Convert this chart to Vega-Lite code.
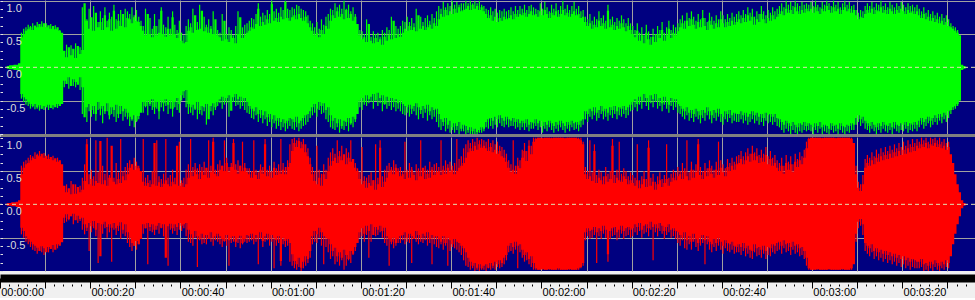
{
  "$schema": "https://vega.github.io/schema/vega-lite/v6.json",
  "background": "#f0f0f0",
  "padding": {"left": -1, "top": 0, "right": 0, "bottom": 0},
  "spacing": 3,
  "bounds": "flush",
  "config": {
    "view": {"stroke": null, "fill": "#000080"},
    "axis": {"labelFont": "Liberation Sans", "labelFontSize": 11}
  },
  "datasets": {
  "w": [
{"t":1.5,"a":2,"b":-2,"c":2,"d":-2},{"t":2,"a":3,"b":-3,"c":2,"d":-2},{"t":2.5,"a":3,"b":-3,"c":3,"d":-3},{"t":3,"a":4,"b":-4,"c":3,"d":-3},{"t":3.5,"a":4,"b":-4,"c":4,"d":-4},{"t":4,"a":6,"b":-6,"c":6,"d":-6},{"t":4.5,"a":45,"b":-40,"c":45,"d":-35},
{"t":5,"a":50,"b":-45,"c":55,"d":-40},{"t":5.5,"a":55,"b":-48,"c":60,"d":-48},{"t":6,"a":57,"b":-52,"c":62,"d":-52},{"t":6.5,"a":60,"b":-55,"c":66,"d":-56},{"t":7,"a":56,"b":-58,"c":70,"d":-60},{"t":7.5,"a":62,"b":-55,"c":68,"d":-62},{"t":8,"a":60,"b":-60,"c":74,"d":-65},{"t":8.5,"a":65,"b":-57,"c":72,"d":-70},{"t":9,"a":61,"b":-62,"c":76,"d":-63},{"t":9.5,"a":66,"b":-58,"c":70,"d":-66},
{"t":10,"a":60,"b":-60,"c":73,"d":-72},{"t":10.5,"a":63,"b":-56,"c":68,"d":-64},{"t":11,"a":58,"b":-61,"c":71,"d":-67},{"t":11.5,"a":62,"b":-57,"c":66,"d":-61},{"t":12,"a":57,"b":-60,"c":69,"d":-68},{"t":12.5,"a":60,"b":-55,"c":64,"d":-60},{"t":13,"a":55,"b":-58,"c":66,"d":-62},{"t":13.5,"a":52,"b":-55,"c":60,"d":-57},
{"t":14,"a":25,"b":-20,"c":28,"d":-20},{"t":14.5,"a":15,"b":-25,"c":18,"d":-15},{"t":15,"a":30,"b":-15,"c":24,"d":-22},{"t":15.5,"a":18,"b":-28,"c":15,"d":-18},{"t":16,"a":28,"b":-18,"c":30,"d":-14},{"t":16.5,"a":14,"b":-22,"c":16,"d":-24},{"t":17,"a":32,"b":-26,"c":26,"d":-17},{"t":17.5,"a":20,"b":-15,"c":18,"d":-22},{"t":18,"a":26,"b":-30,"c":22,"d":-20},
{"t":18.5,"a":96,"b":-75,"c":35,"d":-30},{"t":19,"a":70,"b":-60,"c":90,"d":-35},{"t":19.5,"a":58,"b":-55,"c":30,"d":-28},{"t":20,"a":75,"b":-64,"c":38,"d":-33},{"t":20.5,"a":55,"b":-58,"c":28,"d":-25},{"t":21,"a":82,"b":-70,"c":35,"d":-38},{"t":21.5,"a":60,"b":-52,"c":32,"d":-28},{"t":22,"a":68,"b":-62,"c":95,"d":-78},{"t":22.5,"a":56,"b":-58,"c":30,"d":-30},{"t":23,"a":78,"b":-66,"c":36,"d":-26},{"t":23.5,"a":60,"b":-54,"c":28,"d":-34},{"t":24,"a":72,"b":-72,"c":40,"d":-30},{"t":24.5,"a":55,"b":-60,"c":88,"d":-35},{"t":25,"a":85,"b":-64,"c":34,"d":-28},{"t":25.5,"a":58,"b":-56,"c":30,"d":-36},{"t":26,"a":70,"b":-70,"c":38,"d":-32},{"t":26.5,"a":62,"b":-58,"c":32,"d":-27},{"t":27,"a":80,"b":-66,"c":42,"d":-38},{"t":27.5,"a":60,"b":-62,"c":36,"d":-30},{"t":28,"a":74,"b":-68,"c":45,"d":-42},
{"t":28.5,"a":72,"b":-74,"c":55,"d":-50},{"t":29,"a":66,"b":-78,"c":60,"d":-58},{"t":29.5,"a":75,"b":-72,"c":52,"d":-62},{"t":30,"a":70,"b":-80,"c":58,"d":-55},{"t":30.5,"a":68,"b":-73,"c":54,"d":-60},{"t":31,"a":62,"b":-68,"c":50,"d":-52},
{"t":31.5,"a":55,"b":-52,"c":34,"d":-30},{"t":32,"a":48,"b":-58,"c":28,"d":-36},{"t":32.5,"a":80,"b":-50,"c":32,"d":-28},{"t":33,"a":50,"b":-55,"c":26,"d":-34},{"t":33.5,"a":45,"b":-48,"c":30,"d":-30},{"t":34,"a":62,"b":-60,"c":92,"d":-38},{"t":34.5,"a":48,"b":-52,"c":28,"d":-32},{"t":35,"a":52,"b":-66,"c":33,"d":-28},{"t":35.5,"a":85,"b":-50,"c":26,"d":-35},{"t":36,"a":50,"b":-54,"c":31,"d":-30},{"t":36.5,"a":46,"b":-48,"c":36,"d":-80},{"t":37,"a":58,"b":-56,"c":30,"d":-33},{"t":37.5,"a":48,"b":-50,"c":27,"d":-29},{"t":38,"a":75,"b":-62,"c":34,"d":-36},{"t":38.5,"a":50,"b":-52,"c":30,"d":-30},{"t":39,"a":44,"b":-46,"c":88,"d":-34},{"t":39.5,"a":52,"b":-55,"c":28,"d":-28},{"t":40,"a":40,"b":-42,"c":32,"d":-32},{"t":40.5,"a":36,"b":-36,"c":26,"d":-30},{"t":41,"a":38,"b":-34,"c":30,"d":-28},
{"t":41.5,"a":55,"b":-55,"c":40,"d":-38},{"t":42,"a":60,"b":-60,"c":48,"d":-45},{"t":42.5,"a":52,"b":-56,"c":42,"d":-50},{"t":43,"a":78,"b":-62,"c":52,"d":-40},{"t":43.5,"a":56,"b":-52,"c":45,"d":-48},{"t":44,"a":58,"b":-64,"c":38,"d":-52},{"t":44.5,"a":85,"b":-58,"c":50,"d":-44},{"t":45,"a":54,"b":-60,"c":44,"d":-50},{"t":45.5,"a":60,"b":-55,"c":55,"d":-46},{"t":46,"a":52,"b":-78,"c":40,"d":-52},{"t":46.5,"a":58,"b":-58,"c":48,"d":-42},{"t":47,"a":50,"b":-54,"c":94,"d":-50},{"t":47.5,"a":72,"b":-60,"c":46,"d":-48},{"t":48,"a":48,"b":-52,"c":42,"d":-44},
{"t":48.5,"a":45,"b":-48,"c":52,"d":-48},{"t":49,"a":40,"b":-44,"c":58,"d":-52},{"t":49.5,"a":70,"b":-50,"c":50,"d":-55},{"t":50,"a":42,"b":-46,"c":62,"d":-46},{"t":50.5,"a":38,"b":-42,"c":48,"d":-54},{"t":51,"a":48,"b":-65,"c":56,"d":-50},{"t":51.5,"a":44,"b":-45,"c":92,"d":-48},{"t":52,"a":36,"b":-40,"c":52,"d":-56},{"t":52.5,"a":50,"b":-48,"c":46,"d":-50},{"t":53,"a":75,"b":-44,"c":58,"d":-47},{"t":53.5,"a":44,"b":-50,"c":50,"d":-58},{"t":54,"a":48,"b":-46,"c":55,"d":-52},{"t":54.5,"a":52,"b":-52,"c":48,"d":-46},
{"t":55,"a":55,"b":-58,"c":45,"d":-48},{"t":55.5,"a":60,"b":-62,"c":40,"d":-44},{"t":56,"a":58,"b":-66,"c":50,"d":-52},{"t":56.5,"a":65,"b":-60,"c":44,"d":-46},{"t":57,"a":88,"b":-70,"c":38,"d":-50},{"t":57.5,"a":62,"b":-64,"c":52,"d":-42},{"t":58,"a":68,"b":-72,"c":46,"d":-55},{"t":58.5,"a":64,"b":-66,"c":90,"d":-48},{"t":59,"a":72,"b":-75,"c":42,"d":-44},{"t":59.5,"a":66,"b":-70,"c":48,"d":-52},{"t":60,"a":95,"b":-78,"c":40,"d":-46},{"t":60.5,"a":70,"b":-72,"c":55,"d":-50},{"t":61,"a":74,"b":-80,"c":44,"d":-54},{"t":61.5,"a":68,"b":-76,"c":50,"d":-48},{"t":62,"a":76,"b":-82,"c":46,"d":-85},{"t":62.5,"a":72,"b":-78,"c":52,"d":-50},{"t":63,"a":98,"b":-84,"c":45,"d":-55},{"t":63.5,"a":74,"b":-80,"c":56,"d":-52},{"t":64,"a":70,"b":-76,"c":62,"d":-58},
{"t":64.5,"a":75,"b":-78,"c":80,"d":-75},{"t":65,"a":78,"b":-82,"c":92,"d":-85},{"t":65.5,"a":72,"b":-74,"c":86,"d":-90},{"t":66,"a":80,"b":-84,"c":95,"d":-80},{"t":66.5,"a":74,"b":-80,"c":84,"d":-95},{"t":67,"a":70,"b":-76,"c":90,"d":-86},{"t":67.5,"a":76,"b":-72,"c":78,"d":-78},{"t":68,"a":66,"b":-70,"c":72,"d":-82},{"t":68.5,"a":60,"b":-66,"c":60,"d":-70},
{"t":69,"a":55,"b":-60,"c":45,"d":-48},{"t":69.5,"a":48,"b":-55,"c":35,"d":-40},{"t":70,"a":52,"b":-62,"c":30,"d":-45},{"t":70.5,"a":45,"b":-52,"c":40,"d":-35},{"t":71,"a":56,"b":-58,"c":28,"d":-42},{"t":71.5,"a":50,"b":-54,"c":45,"d":-48},{"t":72,"a":62,"b":-64,"c":38,"d":-50},{"t":72.5,"a":58,"b":-60,"c":50,"d":-52},
{"t":73,"a":70,"b":-72,"c":58,"d":-60},{"t":73.5,"a":78,"b":-80,"c":65,"d":-70},{"t":74,"a":74,"b":-76,"c":70,"d":-65},{"t":74.5,"a":84,"b":-84,"c":62,"d":-78},{"t":75,"a":76,"b":-78,"c":72,"d":-72},{"t":75.5,"a":80,"b":-88,"c":66,"d":-80},{"t":76,"a":72,"b":-80,"c":75,"d":-68},{"t":76.5,"a":86,"b":-82,"c":60,"d":-76},{"t":77,"a":74,"b":-76,"c":70,"d":-82},{"t":77.5,"a":80,"b":-84,"c":64,"d":-70},{"t":78,"a":70,"b":-74,"c":68,"d":-74},{"t":78.5,"a":76,"b":-78,"c":55,"d":-64},{"t":79,"a":65,"b":-70,"c":50,"d":-58},
{"t":79.5,"a":48,"b":-50,"c":38,"d":-42},{"t":80,"a":42,"b":-46,"c":30,"d":-36},{"t":80.5,"a":45,"b":-52,"c":35,"d":-44},{"t":81,"a":38,"b":-42,"c":25,"d":-32},{"t":81.5,"a":65,"b":-48,"c":32,"d":-40},{"t":82,"a":40,"b":-44,"c":28,"d":-30},{"t":82.5,"a":36,"b":-40,"c":36,"d":-46},{"t":83,"a":44,"b":-50,"c":22,"d":-34},{"t":83.5,"a":38,"b":-38,"c":30,"d":-38},{"t":84,"a":42,"b":-46,"c":85,"d":-32},{"t":84.5,"a":34,"b":-42,"c":26,"d":-40},{"t":85,"a":46,"b":-55,"c":34,"d":-35},{"t":85.5,"a":40,"b":-44,"c":40,"d":-48},{"t":86,"a":48,"b":-50,"c":48,"d":-52},{"t":86.5,"a":42,"b":-46,"c":52,"d":-56},{"t":87,"a":70,"b":-52,"c":45,"d":-50},{"t":87.5,"a":44,"b":-48,"c":55,"d":-58},{"t":88,"a":50,"b":-54,"c":50,"d":-52},{"t":88.5,"a":46,"b":-50,"c":42,"d":-48},
{"t":89,"a":52,"b":-55,"c":45,"d":-46},{"t":89.5,"a":58,"b":-58,"c":38,"d":-42},{"t":90,"a":55,"b":-60,"c":48,"d":-50},{"t":90.5,"a":62,"b":-56,"c":40,"d":-44},{"t":91,"a":56,"b":-62,"c":52,"d":-48},{"t":91.5,"a":60,"b":-58,"c":44,"d":-52},{"t":92,"a":54,"b":-54,"c":36,"d":-40},{"t":92.5,"a":78,"b":-60,"c":50,"d":-46},{"t":93,"a":58,"b":-64,"c":42,"d":-50},{"t":93.5,"a":62,"b":-58,"c":55,"d":-44},{"t":94,"a":56,"b":-62,"c":38,"d":-48},{"t":94.5,"a":60,"b":-56,"c":46,"d":-42},{"t":95,"a":64,"b":-66,"c":40,"d":-52},{"t":95.5,"a":58,"b":-60,"c":52,"d":-46},{"t":96,"a":66,"b":-64,"c":44,"d":-50},{"t":96.5,"a":62,"b":-62,"c":48,"d":-48},
{"t":97,"a":72,"b":-70,"c":50,"d":-52},{"t":97.5,"a":80,"b":-78,"c":44,"d":-56},{"t":98,"a":76,"b":-82,"c":52,"d":-48},{"t":98.5,"a":86,"b":-76,"c":46,"d":-58},{"t":99,"a":78,"b":-86,"c":55,"d":-50},{"t":99.5,"a":84,"b":-80,"c":48,"d":-54},{"t":100,"a":80,"b":-90,"c":52,"d":-60},{"t":100.5,"a":88,"b":-84,"c":45,"d":-52},{"t":101,"a":82,"b":-88,"c":50,"d":-56},{"t":101.5,"a":90,"b":-82,"c":55,"d":-58},{"t":102,"a":84,"b":-92,"c":58,"d":-62},{"t":102.5,"a":86,"b":-86,"c":62,"d":-66},
{"t":103,"a":88,"b":-88,"c":70,"d":-72},{"t":103.5,"a":92,"b":-94,"c":78,"d":-80},{"t":104,"a":86,"b":-90,"c":84,"d":-86},{"t":104.5,"a":94,"b":-96,"c":80,"d":-92},{"t":105,"a":88,"b":-92,"c":88,"d":-88},{"t":105.5,"a":92,"b":-97,"c":82,"d":-95},{"t":106,"a":86,"b":-94,"c":90,"d":-90},{"t":106.5,"a":90,"b":-90,"c":85,"d":-96},{"t":107,"a":84,"b":-92,"c":88,"d":-92},
{"t":107.5,"a":80,"b":-82,"c":84,"d":-90},{"t":108,"a":74,"b":-78,"c":80,"d":-95},{"t":108.5,"a":78,"b":-76,"c":86,"d":-88},{"t":109,"a":70,"b":-80,"c":78,"d":-92},{"t":109.5,"a":76,"b":-74,"c":82,"d":-86},{"t":110,"a":68,"b":-78,"c":76,"d":-90},{"t":110.5,"a":74,"b":-72,"c":80,"d":-84},{"t":111,"a":70,"b":-76,"c":72,"d":-88},{"t":111.5,"a":76,"b":-80,"c":70,"d":-80},{"t":112,"a":72,"b":-74,"c":64,"d":-76},
{"t":112.5,"a":74,"b":-78,"c":55,"d":-62},{"t":113,"a":78,"b":-80,"c":48,"d":-58},{"t":113.5,"a":72,"b":-76,"c":52,"d":-64},{"t":114,"a":80,"b":-82,"c":46,"d":-56},{"t":114.5,"a":76,"b":-78,"c":58,"d":-62},{"t":115,"a":80,"b":-84,"c":54,"d":-60},
{"t":115.5,"a":78,"b":-80,"c":70,"d":-68},{"t":116,"a":82,"b":-84,"c":80,"d":-76},{"t":116.5,"a":76,"b":-78,"c":65,"d":-72},{"t":117,"a":80,"b":-86,"c":88,"d":-82},{"t":117.5,"a":84,"b":-82,"c":75,"d":-78},{"t":118,"a":78,"b":-84,"c":94,"d":-88},
{"t":118.5,"a":80,"b":-78,"c":98,"d":-96},{"t":119,"a":76,"b":-84,"c":100,"d":-98},{"t":119.5,"a":84,"b":-80,"c":100,"d":-98},{"t":120,"a":78,"b":-88,"c":99,"d":-97},{"t":120.5,"a":86,"b":-82,"c":100,"d":-98},{"t":121,"a":80,"b":-86,"c":100,"d":-98},{"t":121.5,"a":74,"b":-80,"c":100,"d":-97},{"t":122,"a":82,"b":-84,"c":99,"d":-98},{"t":122.5,"a":78,"b":-88,"c":100,"d":-98},{"t":123,"a":84,"b":-82,"c":100,"d":-98},{"t":123.5,"a":76,"b":-86,"c":100,"d":-96},{"t":124,"a":80,"b":-80,"c":100,"d":-98},{"t":124.5,"a":86,"b":-84,"c":100,"d":-98},{"t":125,"a":78,"b":-88,"c":99,"d":-98},{"t":125.5,"a":82,"b":-82,"c":100,"d":-98},{"t":126,"a":76,"b":-86,"c":100,"d":-97},{"t":126.5,"a":80,"b":-80,"c":100,"d":-98},{"t":127,"a":84,"b":-84,"c":100,"d":-98},{"t":127.5,"a":78,"b":-82,"c":100,"d":-98},{"t":128,"a":80,"b":-86,"c":98,"d":-96},{"t":128.5,"a":74,"b":-80,"c":96,"d":-94},{"t":129,"a":76,"b":-78,"c":90,"d":-88},
{"t":129.5,"a":68,"b":-66,"c":45,"d":-42},{"t":130,"a":62,"b":-70,"c":38,"d":-36},{"t":130.5,"a":66,"b":-62,"c":42,"d":-40},{"t":131,"a":58,"b":-66,"c":35,"d":-38},{"t":131.5,"a":64,"b":-60,"c":80,"d":-34},{"t":132,"a":60,"b":-68,"c":32,"d":-42},{"t":132.5,"a":70,"b":-64,"c":40,"d":-36},{"t":133,"a":62,"b":-58,"c":36,"d":-40},{"t":133.5,"a":66,"b":-66,"c":30,"d":-32},{"t":134,"a":58,"b":-62,"c":42,"d":-38},{"t":134.5,"a":85,"b":-68,"c":34,"d":-75},{"t":135,"a":60,"b":-60,"c":38,"d":-40},{"t":135.5,"a":64,"b":-64,"c":88,"d":-36},{"t":136,"a":56,"b":-58,"c":32,"d":-34},{"t":136.5,"a":62,"b":-66,"c":40,"d":-42},{"t":137,"a":58,"b":-60,"c":36,"d":-38},{"t":137.5,"a":66,"b":-62,"c":34,"d":-32},{"t":138,"a":60,"b":-58,"c":42,"d":-40},{"t":138.5,"a":54,"b":-64,"c":38,"d":-36},{"t":139,"a":62,"b":-60,"c":30,"d":-34},{"t":139.5,"a":56,"b":-56,"c":36,"d":-38},
{"t":140,"a":50,"b":-52,"c":32,"d":-36},{"t":140.5,"a":45,"b":-48,"c":28,"d":-30},{"t":141,"a":55,"b":-55,"c":36,"d":-34},{"t":141.5,"a":40,"b":-44,"c":24,"d":-28},{"t":142,"a":48,"b":-50,"c":30,"d":-38},{"t":142.5,"a":36,"b":-40,"c":38,"d":-32},{"t":143,"a":52,"b":-46,"c":26,"d":-30},{"t":143.5,"a":42,"b":-52,"c":85,"d":-36},{"t":144,"a":34,"b":-42,"c":28,"d":-26},{"t":144.5,"a":46,"b":-48,"c":34,"d":-34},{"t":145,"a":38,"b":-40,"c":22,"d":-30},{"t":145.5,"a":50,"b":-50,"c":30,"d":-36},{"t":146,"a":44,"b":-46,"c":36,"d":-28},{"t":146.5,"a":56,"b":-54,"c":26,"d":-32},{"t":147,"a":40,"b":-44,"c":32,"d":-40},{"t":147.5,"a":48,"b":-50,"c":38,"d":-34},{"t":148,"a":58,"b":-56,"c":28,"d":-30},{"t":148.5,"a":44,"b":-46,"c":34,"d":-38},{"t":149,"a":52,"b":-52,"c":40,"d":-36},{"t":149.5,"a":48,"b":-48,"c":36,"d":-40},{"t":150,"a":54,"b":-55,"c":42,"d":-42},
{"t":150.5,"a":60,"b":-58,"c":45,"d":-46},{"t":151,"a":66,"b":-62,"c":38,"d":-50},{"t":151.5,"a":58,"b":-66,"c":50,"d":-42},{"t":152,"a":70,"b":-60,"c":42,"d":-54},{"t":152.5,"a":62,"b":-68,"c":36,"d":-48},{"t":153,"a":72,"b":-64,"c":52,"d":-56},{"t":153.5,"a":64,"b":-70,"c":40,"d":-44},{"t":154,"a":58,"b":-62,"c":48,"d":-52},{"t":154.5,"a":68,"b":-66,"c":90,"d":-58},{"t":155,"a":60,"b":-72,"c":44,"d":-50},{"t":155.5,"a":74,"b":-64,"c":38,"d":-46},{"t":156,"a":62,"b":-68,"c":50,"d":-54},{"t":156.5,"a":56,"b":-60,"c":42,"d":-48},{"t":157,"a":70,"b":-66,"c":54,"d":-56},{"t":157.5,"a":64,"b":-72,"c":46,"d":-60},{"t":158,"a":58,"b":-64,"c":40,"d":-52},{"t":158.5,"a":66,"b":-68,"c":52,"d":-58},{"t":159,"a":60,"b":-62,"c":44,"d":-50},{"t":159.5,"a":72,"b":-70,"c":55,"d":-56},{"t":160,"a":66,"b":-74,"c":48,"d":-62},{"t":160.5,"a":60,"b":-66,"c":42,"d":-54},{"t":161,"a":68,"b":-70,"c":56,"d":-58},{"t":161.5,"a":62,"b":-64,"c":50,"d":-60},{"t":162,"a":70,"b":-72,"c":58,"d":-56},{"t":162.5,"a":64,"b":-68,"c":52,"d":-62},{"t":163,"a":68,"b":-70,"c":60,"d":-64},
{"t":163.5,"a":72,"b":-70,"c":62,"d":-60},{"t":164,"a":66,"b":-66,"c":68,"d":-64},{"t":164.5,"a":74,"b":-72,"c":60,"d":-58},{"t":165,"a":68,"b":-68,"c":66,"d":-66},{"t":165.5,"a":78,"b":-74,"c":72,"d":-62},{"t":166,"a":70,"b":-70,"c":64,"d":-68},{"t":166.5,"a":76,"b":-66,"c":76,"d":-70},{"t":167,"a":64,"b":-72,"c":66,"d":-60},{"t":167.5,"a":72,"b":-68,"c":72,"d":-66},{"t":168,"a":68,"b":-74,"c":62,"d":-64},{"t":168.5,"a":80,"b":-70,"c":70,"d":-68},{"t":169,"a":72,"b":-76,"c":64,"d":-62},{"t":169.5,"a":66,"b":-68,"c":74,"d":-70},{"t":170,"a":74,"b":-72,"c":60,"d":-64},{"t":170.5,"a":70,"b":-70,"c":68,"d":-66},{"t":171,"a":78,"b":-74,"c":58,"d":-60},{"t":171.5,"a":72,"b":-70,"c":62,"d":-62},{"t":172,"a":76,"b":-76,"c":55,"d":-58},
{"t":172.5,"a":80,"b":-78,"c":50,"d":-56},{"t":173,"a":84,"b":-82,"c":58,"d":-62},{"t":173.5,"a":78,"b":-86,"c":46,"d":-54},{"t":174,"a":88,"b":-80,"c":62,"d":-60},{"t":174.5,"a":82,"b":-84,"c":52,"d":-58},{"t":175,"a":86,"b":-88,"c":60,"d":-64},{"t":175.5,"a":80,"b":-82,"c":48,"d":-56},{"t":176,"a":90,"b":-86,"c":64,"d":-62},{"t":176.5,"a":84,"b":-90,"c":56,"d":-60},{"t":177,"a":80,"b":-84,"c":66,"d":-66},{"t":177.5,"a":86,"b":-86,"c":60,"d":-64},{"t":178,"a":82,"b":-82,"c":70,"d":-70},{"t":178.5,"a":88,"b":-88,"c":84,"d":-80},
{"t":179,"a":84,"b":-84,"c":98,"d":-96},{"t":179.5,"a":88,"b":-86,"c":100,"d":-98},{"t":180,"a":82,"b":-90,"c":100,"d":-98},{"t":180.5,"a":90,"b":-84,"c":100,"d":-98},{"t":181,"a":84,"b":-88,"c":100,"d":-97},{"t":181.5,"a":80,"b":-82,"c":100,"d":-98},{"t":182,"a":88,"b":-90,"c":99,"d":-98},{"t":182.5,"a":84,"b":-86,"c":100,"d":-98},{"t":183,"a":92,"b":-88,"c":100,"d":-98},{"t":183.5,"a":86,"b":-92,"c":100,"d":-97},{"t":184,"a":82,"b":-84,"c":100,"d":-98},{"t":184.5,"a":90,"b":-88,"c":100,"d":-98},{"t":185,"a":84,"b":-86,"c":99,"d":-98},{"t":185.5,"a":88,"b":-92,"c":100,"d":-98},{"t":186,"a":80,"b":-84,"c":100,"d":-98},{"t":186.5,"a":86,"b":-88,"c":100,"d":-97},{"t":187,"a":90,"b":-90,"c":100,"d":-98},{"t":187.5,"a":84,"b":-86,"c":100,"d":-98},{"t":188,"a":88,"b":-88,"c":100,"d":-98},{"t":188.5,"a":82,"b":-84,"c":98,"d":-96},{"t":189,"a":86,"b":-86,"c":92,"d":-90},
{"t":189.5,"a":78,"b":-76,"c":45,"d":-44},{"t":190,"a":72,"b":-72,"c":25,"d":-26},{"t":190.5,"a":76,"b":-78,"c":20,"d":-22},{"t":191,"a":74,"b":-74,"c":30,"d":-30},
{"t":191.5,"a":80,"b":-80,"c":55,"d":-58},{"t":192,"a":86,"b":-84,"c":62,"d":-62},{"t":192.5,"a":82,"b":-88,"c":58,"d":-66},{"t":193,"a":88,"b":-82,"c":66,"d":-60},{"t":193.5,"a":80,"b":-86,"c":60,"d":-70},{"t":194,"a":86,"b":-90,"c":70,"d":-66},{"t":194.5,"a":84,"b":-84,"c":64,"d":-72},{"t":195,"a":90,"b":-88,"c":72,"d":-68},{"t":195.5,"a":82,"b":-82,"c":66,"d":-74},{"t":196,"a":86,"b":-86,"c":74,"d":-70},{"t":196.5,"a":80,"b":-88,"c":68,"d":-76},{"t":197,"a":88,"b":-84,"c":76,"d":-72},{"t":197.5,"a":84,"b":-90,"c":70,"d":-78},{"t":198,"a":80,"b":-82,"c":78,"d":-74},{"t":198.5,"a":86,"b":-86,"c":72,"d":-80},{"t":199,"a":82,"b":-88,"c":80,"d":-76},{"t":199.5,"a":88,"b":-84,"c":74,"d":-82},{"t":200,"a":84,"b":-86,"c":82,"d":-78},{"t":200.5,"a":80,"b":-82,"c":76,"d":-84},{"t":201,"a":86,"b":-88,"c":84,"d":-80},{"t":201.5,"a":82,"b":-84,"c":78,"d":-86},{"t":202,"a":84,"b":-86,"c":86,"d":-82},{"t":202.5,"a":80,"b":-82,"c":80,"d":-84},{"t":203,"a":84,"b":-86,"c":88,"d":-86},
{"t":203.5,"a":78,"b":-80,"c":84,"d":-86},{"t":204,"a":74,"b":-76,"c":90,"d":-82},{"t":204.5,"a":80,"b":-82,"c":86,"d":-90},{"t":205,"a":72,"b":-78,"c":92,"d":-88},{"t":205.5,"a":76,"b":-74,"c":84,"d":-92},{"t":206,"a":70,"b":-80,"c":90,"d":-86},{"t":206.5,"a":74,"b":-76,"c":88,"d":-90},{"t":207,"a":68,"b":-72,"c":92,"d":-84},{"t":207.5,"a":72,"b":-76,"c":86,"d":-88},{"t":208,"a":66,"b":-70,"c":90,"d":-92},{"t":208.5,"a":70,"b":-74,"c":84,"d":-86},{"t":209,"a":64,"b":-68,"c":88,"d":-90},{"t":209.5,"a":68,"b":-72,"c":82,"d":-84},{"t":210,"a":62,"b":-66,"c":86,"d":-88},{"t":210.5,"a":60,"b":-64,"c":75,"d":-78},
{"t":211,"a":58,"b":-60,"c":62,"d":-60},{"t":211.5,"a":55,"b":-58,"c":45,"d":-44},{"t":212,"a":52,"b":-55,"c":30,"d":-30},{"t":212.5,"a":48,"b":-50,"c":18,"d":-18},{"t":213,"a":4,"b":-4,"c":6,"d":-6},{"t":213.5,"a":2,"b":-2,"c":2,"d":-2},{"t":214,"a":0,"b":0,"c":0,"d":0}
  ],
  "spk": [
{"t":4.75,"a":52,"b":-47,"c":58,"d":-45},{"t":5.25,"a":58,"b":-52,"c":64,"d":-50},{"t":5.75,"a":60,"b":-56,"c":66,"d":-56},{"t":6.25,"a":64,"b":-58,"c":70,"d":-60},{"t":6.75,"a":62,"b":-62,"c":74,"d":-64},{"t":7.25,"a":66,"b":-60,"c":72,"d":-68},{"t":7.75,"a":63,"b":-63,"c":78,"d":-70},{"t":8.25,"a":68,"b":-62,"c":76,"d":-74},{"t":8.75,"a":64,"b":-65,"c":80,"d":-68},{"t":9.25,"a":69,"b":-62,"c":74,"d":-72},{"t":9.75,"a":63,"b":-64,"c":77,"d":-76},{"t":10.25,"a":66,"b":-60,"c":72,"d":-70},{"t":10.75,"a":62,"b":-64,"c":75,"d":-72},{"t":11.25,"a":65,"b":-61,"c":70,"d":-66},{"t":11.75,"a":61,"b":-63,"c":73,"d":-72},{"t":12.25,"a":63,"b":-58,"c":68,"d":-65},{"t":12.75,"a":59,"b":-61,"c":70,"d":-66},{"t":13.25,"a":56,"b":-58,"c":64,"d":-60},
{"t":13.75,"a":30,"b":-25,"c":34,"d":-24},{"t":14.25,"a":20,"b":-30,"c":22,"d":-28},{"t":14.75,"a":34,"b":-20,"c":30,"d":-26},{"t":15.25,"a":24,"b":-32,"c":20,"d":-24},{"t":15.75,"a":33,"b":-22,"c":35,"d":-18},{"t":16.25,"a":18,"b":-28,"c":22,"d":-30},{"t":16.75,"a":36,"b":-30,"c":30,"d":-22},{"t":17.25,"a":24,"b":-20,"c":24,"d":-28},{"t":17.75,"a":30,"b":-34,"c":28,"d":-25},
{"t":18.25,"a":90,"b":-70,"c":40,"d":-38},{"t":18.75,"a":80,"b":-68,"c":60,"d":-45},{"t":19.25,"a":72,"b":-82,"c":98,"d":-40},{"t":19.75,"a":88,"b":-66,"c":45,"d":-70},{"t":20.25,"a":70,"b":-74,"c":52,"d":-42},{"t":20.75,"a":92,"b":-70,"c":42,"d":-36},{"t":21.25,"a":76,"b":-80,"c":96,"d":-48},{"t":21.75,"a":68,"b":-64,"c":48,"d":-88},{"t":22.25,"a":84,"b":-72,"c":40,"d":-40},{"t":22.75,"a":74,"b":-84,"c":58,"d":-44},{"t":23.25,"a":90,"b":-70,"c":46,"d":-36},{"t":23.75,"a":70,"b":-66,"c":100,"d":-50},{"t":24.25,"a":82,"b":-78,"c":44,"d":-42},{"t":24.75,"a":76,"b":-70,"c":52,"d":-86},{"t":25.25,"a":94,"b":-74,"c":40,"d":-38},{"t":25.75,"a":72,"b":-82,"c":62,"d":-46},{"t":26.25,"a":80,"b":-76,"c":48,"d":-40},{"t":26.75,"a":86,"b":-70,"c":98,"d":-52},{"t":27.25,"a":74,"b":-80,"c":50,"d":-44},{"t":27.75,"a":88,"b":-74,"c":56,"d":-48},
{"t":28.25,"a":84,"b":-78,"c":62,"d":-58},{"t":28.75,"a":80,"b":-88,"c":66,"d":-64},{"t":29.25,"a":90,"b":-80,"c":60,"d":-70},{"t":29.75,"a":78,"b":-90,"c":70,"d":-62},{"t":30.25,"a":86,"b":-82,"c":64,"d":-68},{"t":30.75,"a":76,"b":-78,"c":58,"d":-60},
{"t":31.25,"a":70,"b":-62,"c":48,"d":-40},{"t":31.75,"a":62,"b":-68,"c":98,"d":-44},{"t":32.25,"a":88,"b":-60,"c":40,"d":-36},{"t":32.75,"a":60,"b":-72,"c":44,"d":-90},{"t":33.25,"a":74,"b":-58,"c":36,"d":-40},{"t":33.75,"a":58,"b":-64,"c":50,"d":-42},{"t":34.25,"a":80,"b":-70,"c":40,"d":-46},{"t":34.75,"a":62,"b":-62,"c":96,"d":-38},{"t":35.25,"a":72,"b":-78,"c":42,"d":-44},{"t":35.75,"a":90,"b":-60,"c":38,"d":-36},{"t":36.25,"a":64,"b":-66,"c":46,"d":-48},{"t":36.75,"a":60,"b":-58,"c":98,"d":-42},{"t":37.25,"a":76,"b":-70,"c":40,"d":-92},{"t":37.75,"a":58,"b":-62,"c":44,"d":-38},{"t":38.25,"a":84,"b":-74,"c":52,"d":-44},{"t":38.75,"a":64,"b":-60,"c":40,"d":-40},{"t":39.25,"a":56,"b":-64,"c":50,"d":-46},{"t":39.75,"a":70,"b":-68,"c":94,"d":-38},{"t":40.25,"a":52,"b":-50,"c":36,"d":-40},{"t":40.75,"a":48,"b":-46,"c":40,"d":-36},
{"t":41.25,"a":62,"b":-60,"c":52,"d":-48},{"t":41.75,"a":72,"b":-70,"c":60,"d":-56},{"t":42.25,"a":66,"b":-68,"c":98,"d":-58},{"t":42.75,"a":88,"b":-72,"c":56,"d":-62},{"t":43.25,"a":70,"b":-64,"c":62,"d":-50},{"t":43.75,"a":68,"b":-78,"c":54,"d":-94},{"t":44.25,"a":94,"b":-70,"c":60,"d":-54},{"t":44.75,"a":66,"b":-72,"c":56,"d":-60},{"t":45.25,"a":76,"b":-66,"c":64,"d":-58},{"t":45.75,"a":64,"b":-86,"c":50,"d":-60},{"t":46.25,"a":72,"b":-70,"c":96,"d":-52},{"t":46.75,"a":62,"b":-66,"c":58,"d":-56},{"t":47.25,"a":84,"b":-72,"c":100,"d":-62},{"t":47.75,"a":60,"b":-64,"c":52,"d":-54},
{"t":48.25,"a":56,"b":-58,"c":60,"d":-56},{"t":48.75,"a":52,"b":-54,"c":66,"d":-60},{"t":49.25,"a":80,"b":-62,"c":58,"d":-64},{"t":49.75,"a":54,"b":-56,"c":96,"d":-56},{"t":50.25,"a":50,"b":-54,"c":70,"d":-62},{"t":50.75,"a":60,"b":-74,"c":56,"d":-92},{"t":51.25,"a":56,"b":-55,"c":62,"d":-58},{"t":51.75,"a":48,"b":-52,"c":98,"d":-56},{"t":52.25,"a":62,"b":-58,"c":60,"d":-64},{"t":52.75,"a":84,"b":-56,"c":66,"d":-58},{"t":53.25,"a":56,"b":-62,"c":58,"d":-66},{"t":53.75,"a":60,"b":-58,"c":94,"d":-60},{"t":54.25,"a":64,"b":-64,"c":62,"d":-56},{"t":54.75,"a":66,"b":-68,"c":54,"d":-58},
{"t":55.25,"a":70,"b":-70,"c":54,"d":-56},{"t":55.75,"a":74,"b":-76,"c":50,"d":-54},{"t":56.25,"a":72,"b":-78,"c":96,"d":-60},{"t":56.75,"a":80,"b":-72,"c":52,"d":-56},{"t":57.25,"a":96,"b":-82,"c":48,"d":-90},{"t":57.75,"a":76,"b":-76,"c":60,"d":-52},{"t":58.25,"a":82,"b":-84,"c":56,"d":-64},{"t":58.75,"a":78,"b":-78,"c":98,"d":-56},{"t":59.25,"a":86,"b":-88,"c":52,"d":-54},{"t":59.75,"a":80,"b":-82,"c":58,"d":-62},{"t":60.25,"a":100,"b":-90,"c":50,"d":-56},{"t":60.75,"a":84,"b":-84,"c":64,"d":-96},{"t":61.25,"a":88,"b":-92,"c":54,"d":-62},{"t":61.75,"a":82,"b":-88,"c":60,"d":-58},{"t":62.25,"a":90,"b":-94,"c":98,"d":-92},{"t":62.75,"a":86,"b":-90,"c":62,"d":-60},{"t":63.25,"a":100,"b":-96,"c":56,"d":-64},{"t":63.75,"a":88,"b":-92,"c":66,"d":-62},
{"t":64.25,"a":86,"b":-88,"c":90,"d":-86},{"t":64.75,"a":90,"b":-92,"c":98,"d":-92},{"t":65.25,"a":88,"b":-94,"c":100,"d":-96},{"t":65.75,"a":94,"b":-90,"c":96,"d":-98},{"t":66.25,"a":92,"b":-96,"c":100,"d":-94},{"t":66.75,"a":88,"b":-92,"c":94,"d":-100},{"t":67.25,"a":86,"b":-88,"c":98,"d":-96},{"t":67.75,"a":84,"b":-86,"c":90,"d":-92},{"t":68.25,"a":78,"b":-82,"c":84,"d":-88},
{"t":68.75,"a":70,"b":-76,"c":70,"d":-80},{"t":69.25,"a":66,"b":-72,"c":56,"d":-60},{"t":69.75,"a":60,"b":-68,"c":50,"d":-56},{"t":70.25,"a":68,"b":-74,"c":88,"d":-58},{"t":70.75,"a":58,"b":-64,"c":52,"d":-50},{"t":71.25,"a":72,"b":-70,"c":46,"d":-62},{"t":71.75,"a":64,"b":-68,"c":60,"d":-90},{"t":72.25,"a":76,"b":-78,"c":52,"d":-64},
{"t":72.75,"a":80,"b":-82,"c":70,"d":-72},{"t":73.25,"a":88,"b":-90,"c":78,"d":-82},{"t":73.75,"a":86,"b":-92,"c":84,"d":-78},{"t":74.25,"a":96,"b":-94,"c":76,"d":-90},{"t":74.75,"a":90,"b":-90,"c":96,"d":-86},{"t":75.25,"a":94,"b":-98,"c":80,"d":-92},{"t":75.75,"a":88,"b":-92,"c":88,"d":-84},{"t":76.25,"a":100,"b":-94,"c":74,"d":-98},{"t":76.75,"a":88,"b":-88,"c":84,"d":-92},{"t":77.25,"a":94,"b":-96,"c":78,"d":-84},{"t":77.75,"a":84,"b":-86,"c":96,"d":-88},{"t":78.25,"a":90,"b":-90,"c":68,"d":-76},{"t":78.75,"a":80,"b":-82,"c":62,"d":-70},
{"t":79.25,"a":60,"b":-62,"c":54,"d":-56},{"t":79.75,"a":56,"b":-60,"c":48,"d":-50},{"t":80.25,"a":54,"b":-64,"c":86,"d":-48},{"t":80.75,"a":50,"b":-56,"c":42,"d":-56},{"t":81.25,"a":72,"b":-58,"c":40,"d":-46},{"t":81.75,"a":48,"b":-54,"c":44,"d":-80},{"t":82.25,"a":46,"b":-52,"c":48,"d":-56},{"t":82.75,"a":54,"b":-62,"c":36,"d":-44},{"t":83.25,"a":50,"b":-48,"c":90,"d":-48},{"t":83.75,"a":52,"b":-58,"c":40,"d":-46},{"t":84.25,"a":46,"b":-54,"c":96,"d":-42},{"t":84.75,"a":56,"b":-66,"c":42,"d":-50},{"t":85.25,"a":52,"b":-56,"c":52,"d":-58},{"t":85.75,"a":60,"b":-62,"c":58,"d":-62},{"t":86.25,"a":56,"b":-58,"c":62,"d":-92},{"t":86.75,"a":76,"b":-64,"c":56,"d":-60},{"t":87.25,"a":58,"b":-60,"c":66,"d":-66},{"t":87.75,"a":62,"b":-66,"c":60,"d":-62},{"t":88.25,"a":58,"b":-62,"c":54,"d":-58},
{"t":88.75,"a":62,"b":-66,"c":56,"d":-58},{"t":89.25,"a":70,"b":-70,"c":50,"d":-54},{"t":89.75,"a":68,"b":-72,"c":94,"d":-60},{"t":90.25,"a":76,"b":-68,"c":52,"d":-56},{"t":90.75,"a":68,"b":-74,"c":62,"d":-58},{"t":91.25,"a":74,"b":-70,"c":56,"d":-88},{"t":91.75,"a":66,"b":-66,"c":48,"d":-52},{"t":92.25,"a":88,"b":-72,"c":60,"d":-56},{"t":92.75,"a":70,"b":-78,"c":54,"d":-60},{"t":93.25,"a":76,"b":-70,"c":96,"d":-56},{"t":93.75,"a":68,"b":-76,"c":50,"d":-58},{"t":94.25,"a":74,"b":-68,"c":58,"d":-54},{"t":94.75,"a":78,"b":-80,"c":52,"d":-62},{"t":95.25,"a":70,"b":-72,"c":64,"d":-58},{"t":95.75,"a":80,"b":-78,"c":56,"d":-90},{"t":96.25,"a":74,"b":-74,"c":60,"d":-60},
{"t":96.75,"a":84,"b":-82,"c":62,"d":-64},{"t":97.25,"a":92,"b":-90,"c":56,"d":-66},{"t":97.75,"a":88,"b":-94,"c":96,"d":-60},{"t":98.25,"a":98,"b":-88,"c":58,"d":-68},{"t":98.75,"a":90,"b":-96,"c":66,"d":-62},{"t":99.25,"a":96,"b":-92,"c":60,"d":-92},{"t":99.75,"a":92,"b":-98,"c":64,"d":-70},{"t":100.25,"a":100,"b":-94,"c":58,"d":-64},{"t":100.75,"a":94,"b":-98,"c":62,"d":-66},{"t":101.25,"a":98,"b":-94,"c":98,"d":-68},{"t":101.75,"a":94,"b":-100,"c":68,"d":-72},{"t":102.25,"a":96,"b":-96,"c":72,"d":-76},
{"t":102.75,"a":96,"b":-96,"c":84,"d":-84},{"t":103.25,"a":100,"b":-100,"c":90,"d":-92},{"t":103.75,"a":96,"b":-98,"c":96,"d":-94},{"t":104.25,"a":100,"b":-100,"c":92,"d":-98},{"t":104.75,"a":96,"b":-100,"c":98,"d":-96},{"t":105.25,"a":100,"b":-100,"c":94,"d":-100},{"t":105.75,"a":96,"b":-100,"c":100,"d":-98},{"t":106.25,"a":100,"b":-98,"c":96,"d":-100},{"t":106.75,"a":94,"b":-98,"c":98,"d":-98},{"t":107.25,"a":92,"b":-96,"c":96,"d":-98},{"t":107.75,"a":88,"b":-90,"c":94,"d":-100},{"t":108.25,"a":86,"b":-92,"c":98,"d":-96},{"t":108.75,"a":90,"b":-88,"c":92,"d":-98},{"t":109.25,"a":84,"b":-92,"c":96,"d":-96},{"t":109.75,"a":88,"b":-86,"c":90,"d":-98},{"t":110.25,"a":82,"b":-90,"c":94,"d":-94},{"t":110.75,"a":86,"b":-84,"c":88,"d":-96},{"t":111.25,"a":84,"b":-88,"c":86,"d":-94},{"t":111.75,"a":88,"b":-90,"c":82,"d":-90},
{"t":112.25,"a":84,"b":-86,"c":76,"d":-84},{"t":112.75,"a":86,"b":-90,"c":66,"d":-72},{"t":113.25,"a":90,"b":-88,"c":60,"d":-70},{"t":113.75,"a":84,"b":-88,"c":96,"d":-74},{"t":114.25,"a":92,"b":-92,"c":58,"d":-68},{"t":114.75,"a":86,"b":-90,"c":70,"d":-96},{"t":115.25,"a":92,"b":-94,"c":66,"d":-72},{"t":115.75,"a":88,"b":-90,"c":82,"d":-80},{"t":116.25,"a":94,"b":-94,"c":92,"d":-86},{"t":116.75,"a":86,"b":-90,"c":80,"d":-84},{"t":117.25,"a":92,"b":-96,"c":96,"d":-90},{"t":117.75,"a":94,"b":-92,"c":88,"d":-94},
{"t":118.25,"a":90,"b":-92,"c":100,"d":-98},{"t":118.75,"a":88,"b":-88,"c":100,"d":-98},{"t":119.25,"a":86,"b":-94,"c":100,"d":-98},{"t":119.75,"a":96,"b":-90,"c":100,"d":-98},{"t":120.25,"a":88,"b":-98,"c":100,"d":-98},{"t":120.75,"a":98,"b":-92,"c":100,"d":-98},{"t":121.25,"a":90,"b":-96,"c":100,"d":-98},{"t":121.75,"a":84,"b":-90,"c":100,"d":-98},{"t":122.25,"a":94,"b":-94,"c":100,"d":-98},{"t":122.75,"a":88,"b":-98,"c":100,"d":-98},{"t":123.25,"a":96,"b":-92,"c":100,"d":-98},{"t":123.75,"a":86,"b":-96,"c":100,"d":-98},{"t":124.25,"a":92,"b":-90,"c":100,"d":-98},{"t":124.75,"a":100,"b":-94,"c":100,"d":-98},{"t":125.25,"a":88,"b":-98,"c":100,"d":-98},{"t":125.75,"a":94,"b":-92,"c":100,"d":-98},{"t":126.25,"a":86,"b":-96,"c":100,"d":-98},{"t":126.75,"a":92,"b":-90,"c":100,"d":-98},{"t":127.25,"a":98,"b":-94,"c":100,"d":-98},{"t":127.75,"a":88,"b":-92,"c":100,"d":-98},{"t":128.25,"a":92,"b":-96,"c":100,"d":-98},{"t":128.75,"a":84,"b":-90,"c":100,"d":-96},
{"t":129.25,"a":86,"b":-86,"c":94,"d":-92},{"t":129.75,"a":76,"b":-78,"c":56,"d":-54},{"t":130.25,"a":72,"b":-82,"c":50,"d":-48},{"t":130.75,"a":80,"b":-74,"c":96,"d":-52},{"t":131.25,"a":70,"b":-78,"c":48,"d":-50},{"t":131.75,"a":76,"b":-72,"c":90,"d":-46},{"t":132.25,"a":72,"b":-80,"c":44,"d":-88},{"t":132.75,"a":84,"b":-76,"c":52,"d":-48},{"t":133.25,"a":74,"b":-70,"c":48,"d":-52},{"t":133.75,"a":78,"b":-78,"c":42,"d":-44},{"t":134.25,"a":70,"b":-74,"c":56,"d":-50},{"t":134.75,"a":94,"b":-80,"c":46,"d":-86},{"t":135.25,"a":72,"b":-72,"c":50,"d":-52},{"t":135.75,"a":76,"b":-76,"c":98,"d":-48},{"t":136.25,"a":68,"b":-70,"c":44,"d":-46},{"t":136.75,"a":74,"b":-78,"c":52,"d":-54},{"t":137.25,"a":70,"b":-72,"c":94,"d":-50},{"t":137.75,"a":78,"b":-74,"c":46,"d":-44},{"t":138.25,"a":72,"b":-70,"c":54,"d":-52},{"t":138.75,"a":66,"b":-76,"c":50,"d":-48},{"t":139.25,"a":74,"b":-72,"c":42,"d":-46},
{"t":139.75,"a":66,"b":-66,"c":48,"d":-50},{"t":140.25,"a":62,"b":-64,"c":44,"d":-48},{"t":140.75,"a":56,"b":-60,"c":40,"d":-42},{"t":141.25,"a":66,"b":-66,"c":90,"d":-46},{"t":141.75,"a":52,"b":-56,"c":36,"d":-40},{"t":142.25,"a":60,"b":-62,"c":42,"d":-50},{"t":142.75,"a":48,"b":-52,"c":50,"d":-44},{"t":143.25,"a":64,"b":-58,"c":38,"d":-42},{"t":143.75,"a":54,"b":-64,"c":96,"d":-48},{"t":144.25,"a":46,"b":-54,"c":40,"d":-38},{"t":144.75,"a":58,"b":-60,"c":46,"d":-84},{"t":145.25,"a":50,"b":-52,"c":34,"d":-42},{"t":145.75,"a":62,"b":-62,"c":42,"d":-48},{"t":146.25,"a":56,"b":-58,"c":48,"d":-40},{"t":146.75,"a":68,"b":-66,"c":38,"d":-44},{"t":147.25,"a":52,"b":-56,"c":44,"d":-52},{"t":147.75,"a":60,"b":-62,"c":90,"d":-46},{"t":148.25,"a":70,"b":-68,"c":40,"d":-42},{"t":148.75,"a":56,"b":-58,"c":46,"d":-50},{"t":149.25,"a":64,"b":-64,"c":52,"d":-48},{"t":149.75,"a":60,"b":-60,"c":48,"d":-52},
{"t":150.25,"a":66,"b":-68,"c":56,"d":-58},{"t":150.75,"a":72,"b":-70,"c":50,"d":-62},{"t":151.25,"a":78,"b":-74,"c":62,"d":-54},{"t":151.75,"a":70,"b":-78,"c":54,"d":-66},{"t":152.25,"a":82,"b":-72,"c":96,"d":-68},{"t":152.75,"a":74,"b":-80,"c":48,"d":-60},{"t":153.25,"a":84,"b":-76,"c":64,"d":-68},{"t":153.75,"a":76,"b":-82,"c":52,"d":-56},{"t":154.25,"a":70,"b":-74,"c":60,"d":-64},{"t":154.75,"a":80,"b":-78,"c":98,"d":-70},{"t":155.25,"a":72,"b":-84,"c":56,"d":-62},{"t":155.75,"a":86,"b":-76,"c":50,"d":-58},{"t":156.25,"a":74,"b":-80,"c":62,"d":-90},{"t":156.75,"a":68,"b":-72,"c":54,"d":-60},{"t":157.25,"a":82,"b":-78,"c":66,"d":-68},{"t":157.75,"a":76,"b":-84,"c":58,"d":-72},{"t":158.25,"a":70,"b":-76,"c":52,"d":-64},{"t":158.75,"a":78,"b":-80,"c":64,"d":-70},{"t":159.25,"a":72,"b":-74,"c":94,"d":-62},{"t":159.75,"a":84,"b":-82,"c":66,"d":-68},{"t":160.25,"a":78,"b":-86,"c":60,"d":-74},{"t":160.75,"a":72,"b":-78,"c":54,"d":-66},{"t":161.25,"a":80,"b":-82,"c":68,"d":-70},{"t":161.75,"a":74,"b":-76,"c":62,"d":-72},{"t":162.25,"a":82,"b":-84,"c":70,"d":-68},{"t":162.75,"a":76,"b":-80,"c":64,"d":-74},
{"t":163.25,"a":80,"b":-82,"c":72,"d":-72},{"t":163.75,"a":84,"b":-82,"c":74,"d":-72},{"t":164.25,"a":78,"b":-78,"c":80,"d":-76},{"t":164.75,"a":86,"b":-84,"c":72,"d":-70},{"t":165.25,"a":80,"b":-80,"c":78,"d":-78},{"t":165.75,"a":90,"b":-86,"c":84,"d":-74},{"t":166.25,"a":82,"b":-82,"c":76,"d":-80},{"t":166.75,"a":88,"b":-78,"c":88,"d":-82},{"t":167.25,"a":76,"b":-84,"c":78,"d":-72},{"t":167.75,"a":84,"b":-80,"c":84,"d":-78},{"t":168.25,"a":80,"b":-86,"c":74,"d":-76},{"t":168.75,"a":92,"b":-82,"c":82,"d":-80},{"t":169.25,"a":84,"b":-88,"c":76,"d":-74},{"t":169.75,"a":78,"b":-80,"c":86,"d":-82},{"t":170.25,"a":86,"b":-84,"c":72,"d":-76},{"t":170.75,"a":82,"b":-82,"c":80,"d":-78},{"t":171.25,"a":90,"b":-86,"c":70,"d":-72},{"t":171.75,"a":84,"b":-82,"c":74,"d":-74},
{"t":172.25,"a":88,"b":-88,"c":66,"d":-70},{"t":172.75,"a":92,"b":-90,"c":62,"d":-68},{"t":173.25,"a":96,"b":-94,"c":70,"d":-74},{"t":173.75,"a":90,"b":-98,"c":58,"d":-66},{"t":174.25,"a":100,"b":-92,"c":74,"d":-72},{"t":174.75,"a":94,"b":-96,"c":64,"d":-70},{"t":175.25,"a":98,"b":-100,"c":72,"d":-76},{"t":175.75,"a":92,"b":-94,"c":60,"d":-68},{"t":176.25,"a":100,"b":-98,"c":76,"d":-74},{"t":176.75,"a":96,"b":-100,"c":68,"d":-72},{"t":177.25,"a":92,"b":-96,"c":78,"d":-78},{"t":177.75,"a":98,"b":-98,"c":72,"d":-76},{"t":178.25,"a":94,"b":-94,"c":82,"d":-82},
{"t":178.75,"a":96,"b":-96,"c":94,"d":-92},{"t":179.25,"a":94,"b":-94,"c":100,"d":-98},{"t":179.75,"a":98,"b":-96,"c":100,"d":-98},{"t":180.25,"a":92,"b":-100,"c":100,"d":-98},{"t":180.75,"a":100,"b":-94,"c":100,"d":-98},{"t":181.25,"a":94,"b":-98,"c":100,"d":-98},{"t":181.75,"a":90,"b":-92,"c":100,"d":-98},{"t":182.25,"a":98,"b":-100,"c":100,"d":-98},{"t":182.75,"a":94,"b":-96,"c":100,"d":-98},{"t":183.25,"a":100,"b":-98,"c":100,"d":-98},{"t":183.75,"a":96,"b":-100,"c":100,"d":-98},{"t":184.25,"a":92,"b":-94,"c":100,"d":-98},{"t":184.75,"a":100,"b":-98,"c":100,"d":-98},{"t":185.25,"a":94,"b":-96,"c":100,"d":-98},{"t":185.75,"a":98,"b":-100,"c":100,"d":-98},{"t":186.25,"a":90,"b":-94,"c":100,"d":-98},{"t":186.75,"a":96,"b":-98,"c":100,"d":-98},{"t":187.25,"a":100,"b":-100,"c":100,"d":-98},{"t":187.75,"a":94,"b":-96,"c":100,"d":-98},{"t":188.25,"a":98,"b":-98,"c":100,"d":-98},{"t":188.75,"a":92,"b":-94,"c":100,"d":-98},
{"t":189.25,"a":94,"b":-94,"c":70,"d":-68},{"t":189.75,"a":86,"b":-86,"c":58,"d":-56},{"t":190.25,"a":82,"b":-82,"c":34,"d":-36},{"t":190.75,"a":86,"b":-88,"c":30,"d":-32},{"t":191.25,"a":84,"b":-84,"c":44,"d":-46},
{"t":191.75,"a":92,"b":-92,"c":68,"d":-70},{"t":192.25,"a":96,"b":-94,"c":74,"d":-74},{"t":192.75,"a":92,"b":-98,"c":70,"d":-78},{"t":193.25,"a":98,"b":-92,"c":78,"d":-72},{"t":193.75,"a":90,"b":-96,"c":72,"d":-82},{"t":194.25,"a":96,"b":-100,"c":82,"d":-78},{"t":194.75,"a":94,"b":-94,"c":76,"d":-84},{"t":195.25,"a":100,"b":-98,"c":84,"d":-80},{"t":195.75,"a":92,"b":-92,"c":78,"d":-86},{"t":196.25,"a":96,"b":-96,"c":86,"d":-82},{"t":196.75,"a":90,"b":-98,"c":80,"d":-88},{"t":197.25,"a":98,"b":-94,"c":88,"d":-84},{"t":197.75,"a":94,"b":-100,"c":82,"d":-90},{"t":198.25,"a":90,"b":-92,"c":90,"d":-86},{"t":198.75,"a":96,"b":-96,"c":84,"d":-92},{"t":199.25,"a":92,"b":-98,"c":92,"d":-88},{"t":199.75,"a":98,"b":-94,"c":86,"d":-94},{"t":200.25,"a":94,"b":-96,"c":94,"d":-90},{"t":200.75,"a":90,"b":-92,"c":88,"d":-96},{"t":201.25,"a":96,"b":-98,"c":96,"d":-92},{"t":201.75,"a":92,"b":-94,"c":90,"d":-98},{"t":202.25,"a":94,"b":-96,"c":98,"d":-94},{"t":202.75,"a":90,"b":-92,"c":92,"d":-96},
{"t":203.25,"a":94,"b":-96,"c":98,"d":-96},{"t":203.75,"a":88,"b":-90,"c":94,"d":-96},{"t":204.25,"a":84,"b":-86,"c":100,"d":-94},{"t":204.75,"a":90,"b":-92,"c":96,"d":-100},{"t":205.25,"a":82,"b":-88,"c":100,"d":-98},{"t":205.75,"a":86,"b":-84,"c":94,"d":-100},{"t":206.25,"a":80,"b":-90,"c":100,"d":-96},{"t":206.75,"a":84,"b":-86,"c":98,"d":-100},{"t":207.25,"a":78,"b":-82,"c":100,"d":-94},{"t":207.75,"a":82,"b":-86,"c":96,"d":-98},{"t":208.25,"a":76,"b":-80,"c":100,"d":-100},{"t":208.75,"a":80,"b":-84,"c":94,"d":-96},{"t":209.25,"a":74,"b":-78,"c":98,"d":-98},{"t":209.75,"a":78,"b":-82,"c":92,"d":-94},{"t":210.25,"a":72,"b":-76,"c":94,"d":-96},
{"t":210.75,"a":66,"b":-70,"c":72,"d":-74},{"t":211.25,"a":62,"b":-64,"c":56,"d":-54},{"t":211.75,"a":60,"b":-62,"c":38,"d":-38},{"t":212.25,"a":56,"b":-58,"c":24,"d":-24}
  ]
  },
  "data": {"name": "w"},
  "vconcat": [
    {
      "width": 975,
      "height": 134,
      "layer": [
        {
          "mark": {"type": "area", "interpolate": "step-after", "color": "#00ff00", "opacity": 1},
          "encoding": {
            "x": {"field": "t", "type": "quantitative", "scale": {"domain": [0, 216.1], "nice": false, "zero": false},
              "axis": {"orient": "bottom", "values": [10,20,30,40,50,60,70,80,90,100,110,120,130,140,150,160,170,180,190,200,210], "grid": true, "gridColor": "#a0a0a0", "labels": false, "ticks": false, "domain": true, "domainColor": "#808080", "domainWidth": 4, "offset": 1.5, "title": null}},
            "y": {"field": "a", "type": "quantitative", "scale": {"domain": [-100, 101], "nice": false, "zero": false},
              "axis": {"orient": "left", "values": [-50, 50, 100], "grid": true, "gridColor": "#a0a0a0", "labels": false, "ticks": false, "domain": false, "title": null}},
            "y2": {"field": "b"}
          }
        },
        {
          "data": {"name": "spk"},
          "mark": {"type": "rule", "color": "#00ff00", "strokeWidth": 1.2},
          "encoding": {
            "x": {"field": "t", "type": "quantitative", "axis": null},
            "y": {"field": "a", "type": "quantitative", "axis": null},
            "y2": {"field": "b"}
          }
        },
        {
          "data": {"values": [{}]},
          "mark": {"type": "rule", "color": "#e0e0b0", "strokeDash": [4, 3]},
          "encoding": {
            "y": {"datum": 0, "type": "quantitative",
              "axis": {"orient": "left", "values": [-100,-87.5,-75,-62.5,-50,-37.5,-25,-12.5,0,12.5,25,37.5,50,62.5,75,87.5,100], "grid": false, "domain": false, "ticks": true, "tickSize": -2.5, "tickColor": "#e0e0e0",
                "labelExpr": "(datum.value % 50 === 0 && datum.value > -100) ? (datum.value < 0 ? '-' : '') + format(abs(datum.value) / 100, '.1f') : ''",
                "labelAlign": "left", "labelBaseline": "top", "labelPadding": -3.5, "labelOffset": 1.5, "labelColor": "#dcdcdc", "labelOverlap": false, "labelBound": false, "labelFlush": false, "title": null, "zindex": 1}}
          }
        }
      ],
      "resolve": {"axis": {"x": "independent", "y": "independent"}}
    },
    {
      "width": 975,
      "height": 134,
      "layer": [
        {
          "mark": {"type": "area", "interpolate": "step-after", "color": "#ff0000", "opacity": 1},
          "encoding": {
            "x": {"field": "t", "type": "quantitative", "scale": {"domain": [0, 216.1], "nice": false, "zero": false},
              "axis": {"orient": "bottom", "values": [0,2,4,6,8,10,12,14,16,18,20,22,24,26,28,30,32,34,36,38,40,42,44,46,48,50,52,54,56,58,60,62,64,66,68,70,72,74,76,78,80,82,84,86,88,90,92,94,96,98,100,102,104,106,108,110,112,114,116,118,120,122,124,126,128,130,132,134,136,138,140,142,144,146,148,150,152,154,156,158,160,162,164,166,168,170,172,174,176,178,180,182,184,186,188,190,192,194,196,198,200,202,204,206,208,210,212,214,216],
                "grid": true, "gridColor": "#a0a0a0",
                "gridOpacity": {"condition": {"test": "datum.value % 10 === 0 && datum.value > 0", "value": 1}, "value": 0},
                "domain": true, "domainColor": "#000000", "domainWidth": 8, "offset": 7,
                "ticks": true, "tickSize": 10, "tickColor": "#000000",
                "tickDash": {"condition": {"test": "datum.value % 10 === 0", "value": [10, 0]}, "value": [0, 6, 2, 10]},
                "labelExpr": "datum.value % 20 === 0 ? utcFormat(datum.value * 1000, '%H:%M:%S') : ''",
                "labelAlign": "left", "labelBaseline": "top", "labelPadding": -1.5, "labelOffset": 0.7, "labelColor": "#000000", "labelFlush": false, "labelOverlap": false, "labelBound": false, "title": null}},
            "y": {"field": "c", "type": "quantitative", "scale": {"domain": [-100, 101], "nice": false, "zero": false},
              "axis": {"orient": "left", "values": [-50, 50], "grid": true, "gridColor": "#a0a0a0", "labels": false, "ticks": false, "domain": false, "title": null}},
            "y2": {"field": "d"}
          }
        },
        {
          "data": {"name": "spk"},
          "mark": {"type": "rule", "color": "#ff0000", "strokeWidth": 1.2},
          "encoding": {
            "x": {"field": "t", "type": "quantitative", "axis": null},
            "y": {"field": "c", "type": "quantitative", "axis": null},
            "y2": {"field": "d"}
          }
        },
        {
          "data": {"values": [{}]},
          "mark": {"type": "rule", "color": "#e0e0b0", "strokeDash": [4, 3]},
          "encoding": {
            "y": {"datum": 0, "type": "quantitative",
              "axis": {"orient": "left", "values": [-100,-87.5,-75,-62.5,-50,-37.5,-25,-12.5,0,12.5,25,37.5,50,62.5,75,87.5,100], "grid": false, "domain": false, "ticks": true, "tickSize": -2.5, "tickColor": "#e0e0e0",
                "labelExpr": "(datum.value % 50 === 0 && datum.value > -100) ? (datum.value < 0 ? '-' : '') + format(abs(datum.value) / 100, '.1f') : ''",
                "labelAlign": "left", "labelBaseline": "top", "labelPadding": -3.5, "labelOffset": 1.5, "labelColor": "#dcdcdc", "labelOverlap": false, "labelBound": false, "labelFlush": false, "title": null, "zindex": 1}}
          }
        }
      ],
      "resolve": {"axis": {"x": "independent", "y": "independent"}}
    }
  ]
}
